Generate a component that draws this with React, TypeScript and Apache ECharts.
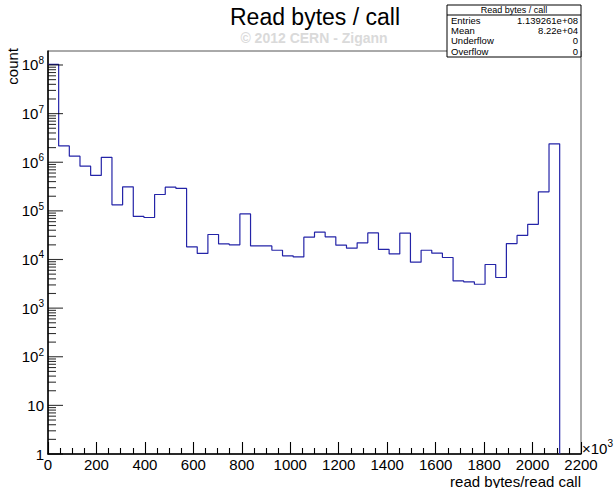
import React, { useEffect, useRef } from 'react';
import * as echarts from 'echarts';

// Histogram: 50 bins of 44 (x10^3 bytes) from 0 to 2200
const binWidth = 44;
const binCounts = [
  1.03e8, 2.17e6, 1.33e6, 8.3e5, 5.35e5, 1.26e6, 1.33e5, 3.12e5, 7.7e4, 7.3e4,
  2.17e5, 3.07e5, 2.89e5, 1.82e4, 1.33e4, 3.27e4, 2.09e4, 2.0e4, 8.67e4, 1.9e4,
  1.9e4, 1.55e4, 1.19e4, 1.13e4, 2.88e4, 3.65e4, 2.92e4, 1.97e4, 1.71e4, 2.2e4,
  3.52e4, 1.61e4, 1.3e4, 3.48e4, 8.8e3, 1.55e4, 1.35e4, 1.1e4, 3.63e3, 3.46e3,
  3.1e3, 7.9e3, 4.26e3, 2.13e4, 3.12e4, 5.3e4, 2.46e5, 2.39e6, 0, 0,
];
const xMin = 0;
const xMax = 2200;
const xStep = 200;
const yMin = 1;
const yMax = 1.94e8;
const yDecades = [1, 10, 1e2, 1e3, 1e4, 1e5, 1e6, 1e7, 1e8];
const yMinorMultipliers = [2, 3, 4, 5, 6, 7, 8, 9];

const titleText = 'Read bytes / call';
const watermarkText = '\u00a9 2012 CERN - Zigann';
const xTitle = 'read bytes/read call';
const yTitle = 'count';
const statHeader = 'Read bytes / call';
const statLabels = ['Entries', 'Mean', 'Underflow', 'Overflow'];
const statValues = ['1.139261e+08', '8.22e+04', '0', '0'];

const FONT = "'Liberation Sans', Arial, Helvetica, sans-serif";

export default function App() {
  const ref = useRef<HTMLDivElement>(null);

  useEffect(() => {
    if (!ref.current) return;
    const chart = echarts.init(ref.current, undefined, { renderer: 'svg' });

    let lastFilled = -1;
    binCounts.forEach((c, i) => {
      if (c > 0) lastFilled = i;
    });
    const stepData: number[][] = binCounts
      .slice(0, lastFilled + 1)
      .map((c, i) => [i * binWidth, c]);
    stepData.push([(lastFilled + 1) * binWidth, yMin]);

    const majorTicks: number[][] = yDecades.map((d) => [xMin, d]);
    const minorTicks: number[][] = [];
    yDecades.forEach((d) => {
      yMinorMultipliers.forEach((m) => {
        const v = d * m;
        if (v < yMax) minorTicks.push([xMin, v]);
      });
    });

    const yLabel = (v: number) => {
      const l = Math.log10(v);
      const e = Math.round(l);
      if (Math.abs(l - e) > 1e-6) return '';
      if (e === 0) return '1';
      if (e === 1) return '10';
      return '10{sup|' + e + '}';
    };

    const tickSeries = (data: number[][], len: number) => ({
      type: 'scatter',
      data,
      symbol: 'rect',
      symbolSize: [len, 1.1],
      symbolOffset: [len / 2, 0],
      itemStyle: { color: '#000' },
      clip: false,
      silent: true,
      z: 5,
    });

    const statsX = 447;
    const statsY = 5;
    const statsW = 134;
    const statsH = 52;

    const option: any = {
      animation: false,
      backgroundColor: '#fff',
      textStyle: { fontFamily: FONT },
      grid: {
        left: 48,
        top: 51,
        right: 35,
        bottom: 34,
        containLabel: false,
        outerBoundsMode: 'none',
        show: true,
        borderColor: '#555',
        borderWidth: 1,
        backgroundColor: 'transparent',
      },
      xAxis: {
        type: 'value',
        min: xMin,
        max: xMax,
        interval: xStep,
        axisLine: { show: true, lineStyle: { color: '#000', width: 1.5 } },
        axisTick: { show: true, inside: true, length: 12, lineStyle: { color: '#000', width: 1.1 } },
        minorTick: { show: true, splitNumber: 4, length: 6, lineStyle: { color: '#000', width: 1.1 } },
        axisLabel: {
          fontSize: 15,
          color: '#000',
          margin: 3,
          fontFamily: FONT,
          formatter: (v: number) => String(v),
        },
        splitLine: { show: false },
        minorSplitLine: { show: false },
      },
      yAxis: {
        type: 'log',
        logBase: 10,
        min: yMin,
        max: yMax,
        axisLine: { show: true, lineStyle: { color: '#000', width: 1.5 } },
        axisTick: { show: false },
        axisLabel: {
          fontSize: 15,
          color: '#000',
          margin: 4,
          fontFamily: FONT,
          formatter: yLabel,
          rich: {
            sup: { fontSize: 10, color: '#000', fontFamily: FONT, padding: [0, 0, 9, 0] },
          },
        },
        splitLine: { show: false },
      },
      series: [
        {
          type: 'line',
          step: 'end',
          data: stepData,
          showSymbol: false,
          symbol: 'none',
          lineStyle: { color: '#2424a8', width: 1.2 },
          z: 2,
        },
        tickSeries(majorTicks, 15),
        tickSeries(minorTicks, 8),
      ],
      graphic: [
        {
          type: 'text',
          x: 315,
          y: 17,
          style: {
            text: titleText,
            font: `23px ${FONT}`,
            fill: '#000',
            textAlign: 'center',
            textVerticalAlign: 'middle',
            align: 'center',
            verticalAlign: 'middle',
          },
        },
        {
          type: 'text',
          x: 314,
          y: 38,
          style: {
            text: watermarkText,
            font: `bold 14px ${FONT}`,
            fill: '#dadada',
            textAlign: 'center',
            textVerticalAlign: 'middle',
            align: 'center',
            verticalAlign: 'middle',
          },
        },
        {
          type: 'text',
          x: 12,
          y: 48,
          rotation: Math.PI / 2,
          style: {
            text: yTitle,
            font: `15px ${FONT}`,
            fill: '#000',
            textAlign: 'right',
            textVerticalAlign: 'middle',
            align: 'right',
            verticalAlign: 'middle',
          },
        },
        {
          type: 'text',
          x: 581,
          y: 481,
          style: {
            text: xTitle,
            font: `15px ${FONT}`,
            fill: '#000',
            textAlign: 'right',
            textVerticalAlign: 'middle',
            align: 'right',
            verticalAlign: 'middle',
          },
        },
        {
          type: 'text',
          x: 582,
          y: 448,
          style: {
            text: '\u00d710{sup|3}',
            font: `15px ${FONT}`,
            fill: '#000',
            textAlign: 'left',
            textVerticalAlign: 'middle',
            align: 'left',
            verticalAlign: 'middle',
            rich: {
              sup: { fontSize: 10, fill: '#000', fontFamily: FONT, padding: [0, 0, 9, 0] },
            },
          },
        },
        {
          type: 'group',
          z: 20,
          children: [
            {
              type: 'rect',
              shape: { x: statsX, y: statsY, width: statsW, height: statsH },
              style: { fill: '#fff', stroke: '#000', lineWidth: 1 },
            },
            {
              type: 'line',
              shape: { x1: statsX, y1: statsY + 10, x2: statsX + statsW, y2: statsY + 10 },
              style: { stroke: '#000', lineWidth: 1 },
            },
            {
              type: 'text',
              x: statsX + statsW / 2,
              y: statsY + 5,
              style: {
                text: statHeader,
                font: `9px ${FONT}`,
                fill: '#000',
                textAlign: 'center',
                textVerticalAlign: 'middle',
                align: 'center',
                verticalAlign: 'middle',
              },
            },
            ...statLabels.map((lab, i) => ({
              type: 'text',
              x: statsX + 4,
              y: statsY + 15.5 + i * 10.2,
              style: {
                text: lab,
                font: `9.5px ${FONT}`,
                fill: '#000',
                textAlign: 'left',
                textVerticalAlign: 'middle',
                align: 'left',
                verticalAlign: 'middle',
              },
            })),
            ...statValues.map((val, i) => ({
              type: 'text',
              x: statsX + statsW - 3,
              y: statsY + 15.5 + i * 10.2,
              style: {
                text: val,
                font: `9.5px ${FONT}`,
                fill: '#000',
                textAlign: 'right',
                textVerticalAlign: 'middle',
                align: 'right',
                verticalAlign: 'middle',
              },
            })),
          ],
        },
      ],
    };

    chart.setOption(option);
    return () => chart.dispose();
  }, []);

  return (
    <div
      ref={ref}
      style={{ position: 'fixed', left: 0, top: 0, width: 616, height: 488, background: '#fff' }}
    />
  );
}
